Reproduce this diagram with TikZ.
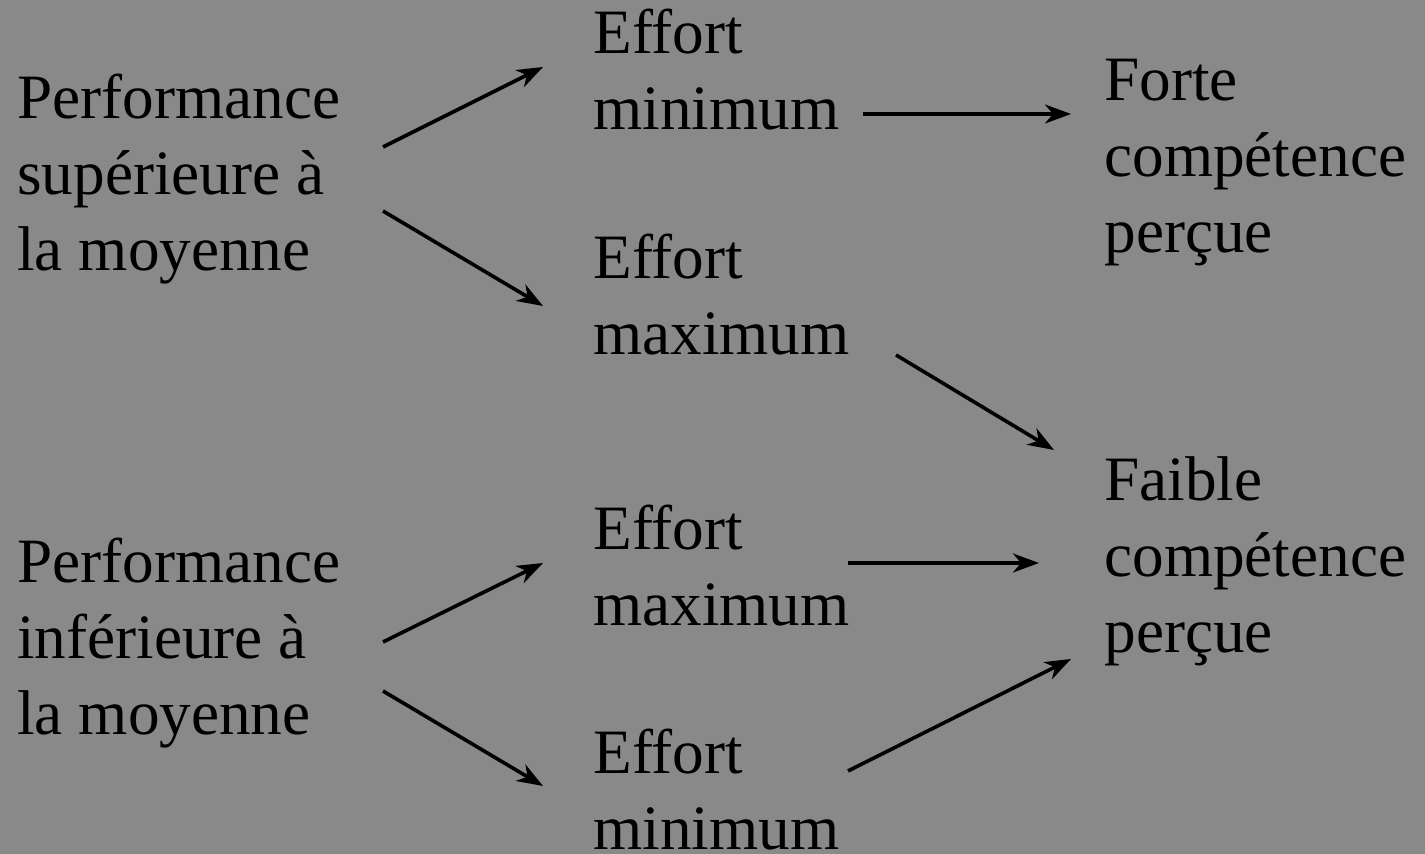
\documentclass[tikz,border=0pt]{standalone}
\usepackage{fontspec}
\setmainfont{Liberation Serif}
\usetikzlibrary{arrows.meta}
\definecolor{bg}{RGB}{137,137,137}
\begin{document}
\begin{tikzpicture}[x=0.5pt,y=-0.5pt,
  lbl/.style={anchor=base west, inner sep=0pt, align=left, font=\fontsize{31.6pt}{38pt}\selectfont},
  arr/.style={line width=1.8pt, -{Stealth[length=13pt,width=9.5pt,inset=4pt]}}]
\fill[bg] (0,0) rectangle (1425,854);
\useasboundingbox (0,0) rectangle (1425,854);
% nodes (anchored at the baseline of their last line)
\node[lbl] (ps)  at (17,271)   {Performance\\supérieure à\\la moyenne};
\node[lbl] (pi)  at (17,735)   {Performance\\inférieure à\\la moyenne};
\node[lbl] (em1) at (593,130)  {Effort\\minimum};
\node[lbl] (eM1) at (593,355)  {Effort\\maximum};
\node[lbl] (eM2) at (593,626)  {Effort\\maximum};
\node[lbl] (em2) at (593,850)  {Effort\\minimum};
\node[lbl] (fc)  at (1104,253) {Forte\\compétence\\perçue};
\node[lbl] (fa)  at (1104,653) {Faible\\compétence\\perçue};
% connector ends
\coordinate (ps-a) at (383,147);  \coordinate (em1-in)  at (543,67);
\coordinate (ps-b) at (383,211);  \coordinate (eM1-in)  at (543,306);
\coordinate (em1-out) at (863,114); \coordinate (fc-in) at (1071,114);
\coordinate (eM1-out) at (896,355); \coordinate (fa-in1) at (1054,450);
\coordinate (pi-a) at (383,642);  \coordinate (eM2-in)  at (543,563);
\coordinate (pi-b) at (383,691);  \coordinate (em2-in)  at (543,786);
\coordinate (eM2-out) at (848,563); \coordinate (fa-in2) at (1039,563);
\coordinate (em2-out) at (848,771); \coordinate (fa-in3) at (1071,659);
% connectors
\draw[arr] (ps-a) -- (em1-in);
\draw[arr] (ps-b) -- (eM1-in);
\draw[arr] (em1-out) -- (fc-in);
\draw[arr] (eM1-out) -- (fa-in1);
\draw[arr] (pi-a) -- (eM2-in);
\draw[arr] (pi-b) -- (em2-in);
\draw[arr] (eM2-out) -- (fa-in2);
\draw[arr] (em2-out) -- (fa-in3);
\end{tikzpicture}
\end{document}
